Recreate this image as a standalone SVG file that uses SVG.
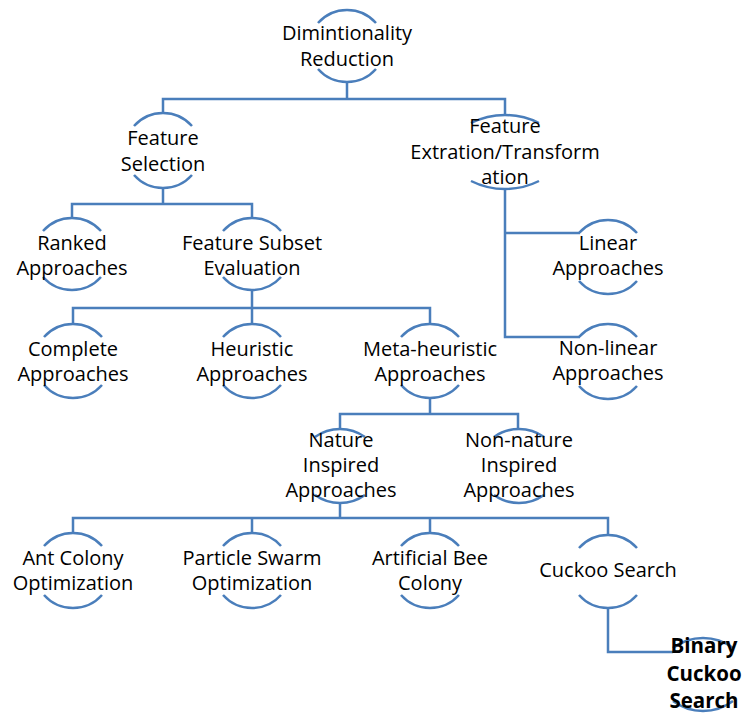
<svg xmlns="http://www.w3.org/2000/svg" width="746" height="715" viewBox="0 0 746 715">
<style>
.arc{fill:none;stroke:#4a7ebb;stroke-width:2.5}
.con{fill:none;stroke:#4a7ebb;stroke-width:2.5}
text{font-family:"Open Sans","Liberation Sans",sans-serif;font-size:20px;fill:#000;text-anchor:middle}
.b{font-weight:bold;font-size:20.5px}
</style>
<rect width="746" height="715" fill="#fff"/>
<g id="connectors">
<path class="con" d="M347,82 V99 M163,113 V99 H505 V115"/>
<path class="con" d="M163,188 V204 M72,218 V204 H252 V218"/>
<path class="con" d="M505,189 V337 H580 M505,233 H580"/>
<path class="con" d="M252,290 V308 M73,324 V308 H430 V324 M252,308 V324"/>
<path class="con" d="M430,398 V414 M340,429 V414 H518 V429"/>
<path class="con" d="M340,503 V518 M73,533 V518 H608 V535 M252,518 V533 M430,518 V533"/>
<path class="con" d="M608,608 V652 H673"/>
</g>
<g id="root">
<path class="arc" d="M318,23 A38.8,38.8 0 0 1 376,23 M318,69 A38.8,38.8 0 0 0 376,69"/>
<text x="347" y="40">Dimintionality</text><text x="347" y="66">Reduction</text>
</g>
<g id="feature-selection">
<path class="arc" d="M134,126 A38.8,38.8 0 0 1 192,126 M134,175 A38.8,38.8 0 0 0 192,175"/>
<text x="163" y="145">Feature</text><text x="163" y="171">Selection</text>
</g>
<g id="feature-extraction">
<path class="arc" d="M471,123 A76,76 0 0 1 539,123 M471,181 A76,76 0 0 0 539,181"/>
<text x="505" y="133">Feature</text><text x="505" y="159">Extration/Transform</text><text x="505" y="184">ation</text>
</g>
<g id="ranked">
<path class="arc" d="M43,231 A38.8,38.8 0 0 1 101,231 M43,277 A38.8,38.8 0 0 0 101,277"/>
<text x="72" y="250">Ranked</text><text x="72" y="275">Approaches</text>
</g>
<g id="subset-evaluation">
<path class="arc" d="M223,231 A38.8,38.8 0 0 1 281,231 M223,277 A38.8,38.8 0 0 0 281,277"/>
<text x="252" y="250">Feature Subset</text><text x="252" y="275">Evaluation</text>
</g>
<g id="linear">
<path class="arc" d="M579,233 A38.8,38.8 0 0 1 637,233 M579,281 A38.8,38.8 0 0 0 637,281"/>
<text x="608" y="250">Linear</text><text x="608" y="275">Approaches</text>
</g>
<g id="non-linear">
<path class="arc" d="M579,337 A38.8,38.8 0 0 1 637,337 M579,386 A38.8,38.8 0 0 0 637,386"/>
<text x="608" y="355">Non-linear</text><text x="608" y="380">Approaches</text>
</g>
<g id="complete">
<path class="arc" d="M44,337 A38.8,38.8 0 0 1 102,337 M44,385 A38.8,38.8 0 0 0 102,385"/>
<text x="73" y="356">Complete</text><text x="73" y="381">Approaches</text>
</g>
<g id="heuristic">
<path class="arc" d="M223,337 A38.8,38.8 0 0 1 281,337 M223,385 A38.8,38.8 0 0 0 281,385"/>
<text x="252" y="356">Heuristic</text><text x="252" y="381">Approaches</text>
</g>
<g id="meta-heuristic">
<path class="arc" d="M401,337 A38.8,38.8 0 0 1 459,337 M401,385 A38.8,38.8 0 0 0 459,385"/>
<text x="430" y="356">Meta-heuristic</text><text x="430" y="381">Approaches</text>
</g>
<g id="nature">
<path class="arc" d="M315,437 A43,43 0 0 1 365,437 M315,495 A43,43 0 0 0 365,495"/>
<text x="341" y="447">Nature</text><text x="341" y="472">Inspired</text><text x="341" y="497">Approaches</text>
</g>
<g id="non-nature">
<path class="arc" d="M494,437 A43,43 0 0 1 544,437 M494,495 A43,43 0 0 0 544,495"/>
<text x="519" y="447">Non-nature</text><text x="519" y="472">Inspired</text><text x="519" y="497">Approaches</text>
</g>
<g id="ant-colony">
<path class="arc" d="M44,546 A38.8,38.8 0 0 1 102,546 M44,595 A38.8,38.8 0 0 0 102,595"/>
<text x="73" y="565">Ant Colony</text><text x="73" y="590">Optimization</text>
</g>
<g id="particle-swarm">
<path class="arc" d="M223,546 A38.8,38.8 0 0 1 281,546 M223,595 A38.8,38.8 0 0 0 281,595"/>
<text x="252" y="565">Particle Swarm</text><text x="252" y="590">Optimization</text>
</g>
<g id="bee-colony">
<path class="arc" d="M401,546 A38.8,38.8 0 0 1 459,546 M401,595 A38.8,38.8 0 0 0 459,595"/>
<text x="430" y="565">Artificial Bee</text><text x="430" y="590">Colony</text>
</g>
<g id="cuckoo">
<path class="arc" d="M579,548 A38.8,38.8 0 0 1 637,548 M579,595 A38.8,38.8 0 0 0 637,595"/>
<text x="608" y="577">Cuckoo Search</text>
</g>
<g id="binary-cuckoo">
<path class="arc" d="M673,648 A50,50 0 0 1 733,648 M673,701 A50,50 0 0 0 733,701"/>
<text class="b" x="704" y="653">Binary</text><text class="b" x="704" y="681">Cuckoo</text><text class="b" x="704" y="708">Search</text>
</g>
</svg>
